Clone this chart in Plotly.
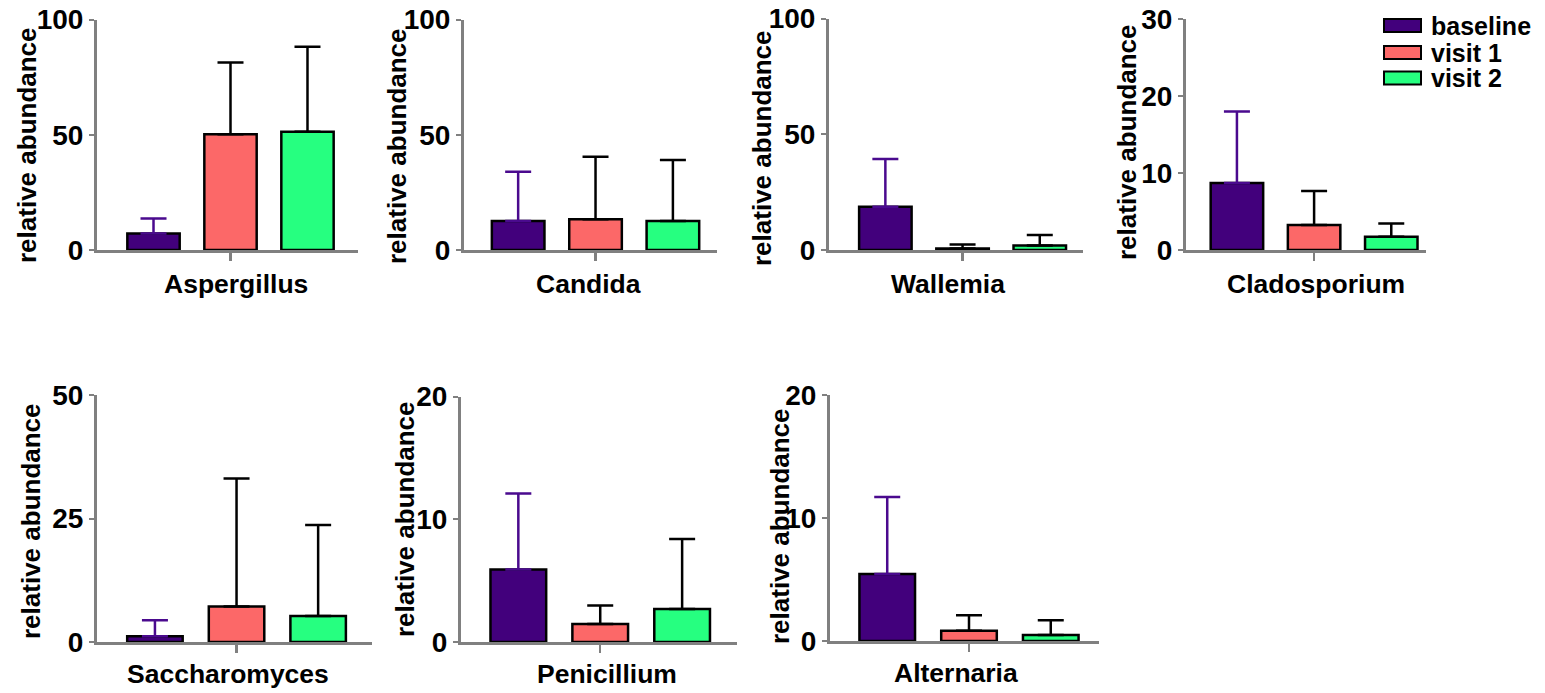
import plotly.graph_objects as go

# ---------------- data ----------------
genera = ["Aspergillus", "Candida", "Wallemia", "Cladosporium",
          "Saccharomyces", "Penicillium", "Alternaria"]
groups = ["baseline", "visit 1", "visit 2"]

baseline_mean = [7.2, 12.6, 18.7, 8.7, 1.15, 5.9, 5.45]
baseline_err = [6.5, 21.4, 20.6, 9.3, 3.25, 6.2, 6.25]
visit1_mean = [50.2, 13.3, 0.7, 3.25, 7.2, 1.47, 0.84]
visit1_err = [31.1, 27.2, 1.7, 4.4, 25.9, 1.5, 1.25]
visit2_mean = [51.3, 12.6, 1.9, 1.73, 5.27, 2.69, 0.49]
visit2_err = [36.9, 26.4, 4.6, 1.7, 18.4, 5.7, 1.2]

y_max = [100, 100, 100, 30, 50, 20, 20]
y_step = [50, 50, 50, 10, 25, 10, 10]
y_title = "relative abundance"

# ---------------- style ----------------
fill_colors = ["#42007C", "#FC6868", "#26FF80"]
err_colors = ["#4A0A8E", "#000000", "#000000"]
AXIS = "#808080"
FONT = "Liberation Sans, Arial, sans-serif"
W, H = 1545, 693

# panel geometry in pixels: left, right, top, bottom, x-range lo, hi,
# y-title centre (x, y), category label centre (x, y)
panels = [
    (97, 358, 19.5, 250, -0.734, 2.656, 27, 145, 236, 284),
    (464, 717, 19.5, 250, -0.70, 2.57, 397, 146, 588, 284),
    (829, 1083, 18.5, 250, -0.73, 2.56, 762, 148, 948, 284),
    (1186, 1426, 19, 250, -0.66, 2.45, 1127, 142, 1316, 284),
    (97, 372, 395, 642, -0.71, 2.66, 31, 521, 228, 674),
    (461, 737, 396.5, 642, -0.70, 2.67, 405, 519, 607, 674),
    (830, 1099, 395, 641, -0.70, 2.59, 780, 526, 956, 673),
]

means = [baseline_mean, visit1_mean, visit2_mean]
errs = [baseline_err, visit1_err, visit2_err]

fig = go.Figure()
annotations = []
shapes = []

for p, g in enumerate(genera):
    l, r, t, b, xlo, xhi, tx, ty, lx, ly = panels[p]
    xa = "x" if p == 0 else f"x{p+1}"
    ya = "y" if p == 0 else f"y{p+1}"
    for k, grp in enumerate(groups):
        fig.add_trace(go.Bar(
            x=[k], y=[means[k][p]], width=0.68,
            name=grp, showlegend=False,
            marker=dict(color=fill_colors[k], line=dict(color="black", width=2.5)),
            error_y=dict(type="data", symmetric=False, array=[errs[k][p]],
                         arrayminus=[0], color=err_colors[k], thickness=2.5, width=13),
            xaxis=xa, yaxis=ya,
        ))
    xkey = "xaxis" if p == 0 else f"xaxis{p+1}"
    ykey = "yaxis" if p == 0 else f"yaxis{p+1}"
    fig.update_layout(**{
        xkey: dict(domain=[l / W, r / W], range=[xlo, xhi], anchor=ya,
                   automargin=False,
                   showline=True, linecolor=AXIS, linewidth=3,
                   showgrid=False, zeroline=False,
                   tickvals=[1], ticktext=[""], ticks="outside",
                   ticklen=8, tickwidth=2.5, tickcolor=AXIS, fixedrange=True),
        ykey: dict(domain=[1 - b / H, 1 - t / H], range=[0, y_max[p]], anchor=xa,
                   automargin=False,
                   showline=True, linecolor=AXIS, linewidth=3,
                   showgrid=False, zeroline=False,
                   tick0=0, dtick=y_step[p], ticks="outside",
                   ticklen=5, tickwidth=2, tickcolor=AXIS,
                   tickfont=dict(family=FONT, size=28, color="black", weight="bold")),
    })
    annotations.append(dict(
        text=y_title, textangle=-90, xref="paper", yref="paper",
        x=tx / W, y=1 - ty / H, xanchor="center", yanchor="middle",
        showarrow=False, font=dict(family=FONT, size=26, color="black", weight="bold")))
    annotations.append(dict(
        text=g, xref="paper", yref="paper",
        x=lx / W, y=1 - ly / H, xanchor="center", yanchor="middle",
        showarrow=False, font=dict(family=FONT, size=26.5, color="black", weight="bold")))

# legend (manual, to reproduce the wide swatches)
leg_rows = [25.5, 52.5, 78]
for k, grp in enumerate(groups):
    cy = leg_rows[k]
    shapes.append(dict(type="rect", xref="paper", yref="paper",
                       x0=1384 / W, x1=1421 / W, y0=1 - (cy + 6.5) / H, y1=1 - (cy - 6.5) / H,
                       fillcolor=fill_colors[k], line=dict(color="black", width=2)))
    annotations.append(dict(
        text=grp, xref="paper", yref="paper", x=1429 / W, y=1 - cy / H,
        xanchor="left", yanchor="middle", showarrow=False,
        font=dict(family=FONT, size=25, color="black", weight="bold")))

fig.update_layout(
    width=W, height=H, margin=dict(l=0, r=0, t=0, b=0, pad=0, autoexpand=False),
    autosize=False,
    paper_bgcolor="white", plot_bgcolor="white",
    showlegend=False, barmode="overlay",
    annotations=annotations, shapes=shapes,
    font=dict(family=FONT, color="black"),
)

fig.write_html("out.html",
               config={"displayModeBar": False, "staticPlot": True},
               post_script="document.body.style.margin='0px';document.body.style.padding='0px';")
